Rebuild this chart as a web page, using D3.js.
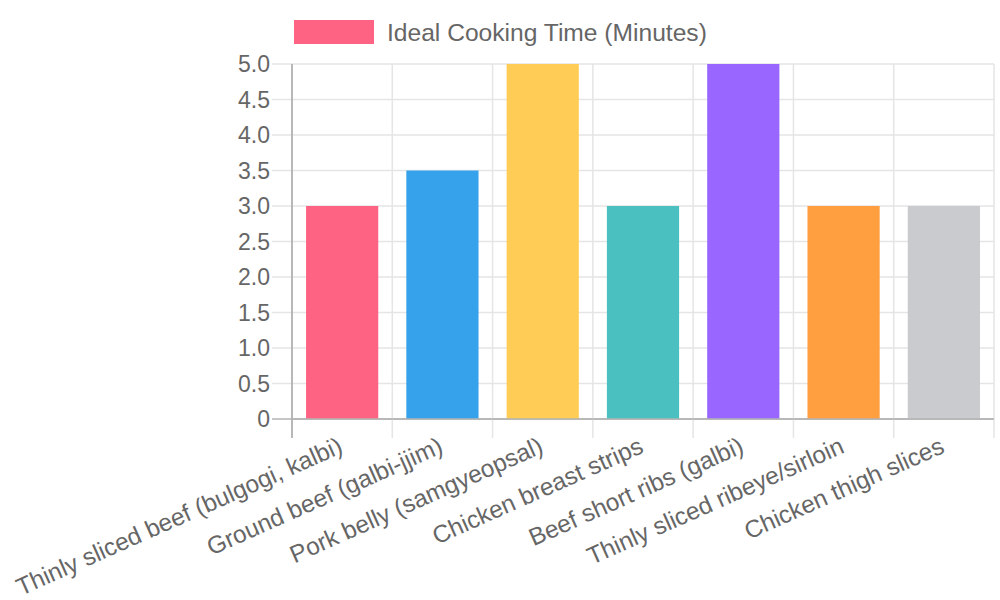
<!DOCTYPE html>
<html><head><meta charset="utf-8">
<script src="https://cdn.jsdelivr.net/npm/d3@7"></script>
<style>body{margin:0;background:#fff;} text{font-family:"Liberation Sans",Arial,sans-serif;fill:#666;}</style>
</head><body>
<svg id="c" width="1000" height="600"></svg>
<script>
const categories = ["Thinly sliced beef (bulgogi, kalbi)","Ground beef (galbi-jjim)","Pork belly (samgyeopsal)","Chicken breast strips","Beef short ribs (galbi)","Thinly sliced ribeye/sirloin","Chicken thigh slices"];
const values = [3, 3.5, 5, 3, 5, 3, 3];
const colors = ["#ff6384","#36a2eb","#ffcd56","#4bc0c0","#9966ff","#ff9f40","#c9cbcf"];
const yTicks = [0,0.5,1,1.5,2,2.5,3,3.5,4,4.5,5];
const seriesName = "Ideal Cooking Time (Minutes)";

const svg = d3.select("#c");
const L=292, R=994, T=64, B=419;
const x = d3.scaleBand().domain(categories).range([L,R]).paddingInner(0).paddingOuter(0);
const y = d3.scaleLinear().domain([0,5]).range([B,T]);

// horizontal grid
svg.append("g").selectAll("line").data(yTicks).join("line")
  .attr("x1",L-20).attr("x2",R).attr("y1",d=>y(d)).attr("y2",d=>y(d))
  .attr("stroke",d=>d===0?"#b3b3b3":"#e5e5e5").attr("stroke-width",1.5);
// vertical grid
const bounds = categories.map(c=>x(c)).concat([R]);
svg.append("g").selectAll("line").data(bounds).join("line")
  .attr("x1",d=>d).attr("x2",d=>d).attr("y1",T).attr("y2",B+19)
  .attr("stroke",(d,i)=>i===0?"#b3b3b3":"#e5e5e5").attr("stroke-width",1.5);

// bars
const bw = x.bandwidth()*0.72;
svg.append("g").selectAll("rect").data(values).join("rect")
  .attr("x",(d,i)=>x(categories[i])+(x.bandwidth()-bw)/2)
  .attr("width",bw)
  .attr("y",d=>y(d)).attr("height",d=>y(0)-y(d))
  .attr("fill",(d,i)=>colors[i]);

// redraw axis lines on top
svg.append("line").attr("x1",L).attr("x2",R).attr("y1",B).attr("y2",B).attr("stroke","#b3b3b3").attr("stroke-width",1.5);
svg.append("line").attr("x1",L).attr("x2",L).attr("y1",T).attr("y2",B+19).attr("stroke","#b3b3b3").attr("stroke-width",1.5);

// y labels
svg.append("g").selectAll("text").data(yTicks).join("text")
  .attr("x",L-22).attr("y",d=>y(d)).attr("dy","0.36em")
  .attr("text-anchor","end").attr("font-size",23)
  .text(d=>d===0?"0":d.toFixed(1));

// x labels
svg.append("g").selectAll("text").data(categories).join("text")
  .attr("transform",d=>`translate(${x(d)+x.bandwidth()/2+2},${B+33}) rotate(-24)`)
  .attr("text-anchor","end").attr("font-size",24.4)
  .text(d=>d);

// legend
svg.append("rect").attr("x",294).attr("y",20).attr("width",80).attr("height",24).attr("fill",colors[0]);
svg.append("text").attr("x",387).attr("y",32).attr("dy","0.36em").attr("font-size",24.6).text(seriesName);
</script>
</body></html>
